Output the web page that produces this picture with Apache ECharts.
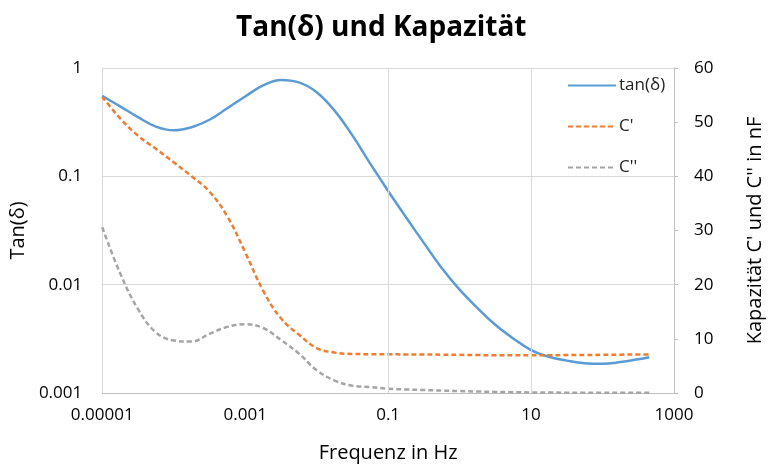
<!DOCTYPE html>
<html>
<head>
<meta charset="utf-8">
<script src="https://cdn.jsdelivr.net/npm/echarts@6/dist/echarts.min.js"></script>
<style>
html,body{margin:0;padding:0;background:#fff;}
#chart{width:773px;height:468px;}
</style>
</head>
<body>
<div id="chart"></div>
<script>
// Frequencies (Hz), quarter-decade steps
const freqHz = [1e-5, 1.78e-5, 3.16e-5, 5.62e-5, 1e-4, 1.78e-4, 3.16e-4, 5.62e-4, 1e-3, 1.78e-3, 3.16e-3, 5.62e-3,
  0.01, 0.0178, 0.0316, 0.0562, 0.1, 0.178, 0.316, 0.562, 1, 1.78, 3.16, 5.62, 10, 17.8, 31.6, 56.2, 100, 178, 316, 450];
const tanVals = [0.553, 0.442, 0.352, 0.288, 0.266, 0.284, 0.333, 0.425, 0.546, 0.690, 0.776, 0.736,
  0.598, 0.404, 0.239, 0.131, 0.0733, 0.0419, 0.0243, 0.01426, 0.0090, 0.00608, 0.00426, 0.00319,
  0.00249, 0.00216, 0.00199, 0.00188, 0.00186, 0.00193, 0.00205, 0.00214];
const c1Vals = [54.7, 50.7, 47.5, 45.1, 42.6, 40.0, 37.2, 32.6, 26.0, 18.9, 13.8, 10.8,
  8.3, 7.47, 7.2, 7.17, 7.15, 7.12, 7.1, 7.08, 7.05, 7.0, 6.98, 6.97,
  6.97, 6.98, 7.0, 7.02, 7.05, 7.08, 7.1, 7.12];
const c2Vals = [30.6, 22.1, 15.5, 11.2, 9.7, 9.5, 10.9, 12.2, 12.7, 12.0, 9.8, 7.3,
  4.2, 2.3, 1.35, 1.1, 0.8, 0.65, 0.55, 0.45, 0.35, 0.27, 0.2, 0.15,
  0.1, 0.08, 0.06, 0.05, 0.05, 0.04, 0.03, 0.03];

const xTickValues = [1e-5, 1e-3, 0.1, 10, 1000];
const xTickLabels = ['0.00001', '0.001', '0.1', '10', '1000'];
const yTickValues = [0.001, 0.01, 0.1, 1];
const yTickLabels = ['0.001', '0.01', '0.1', '1'];
const xGridValues = [1e-3, 0.1, 10];

const seriesNames = ['tan(\u03b4)', "C'", "C''"];
const colors = ['#5b9bd5', '#ed7d31', '#a5a5a5'];

function zip(xs, ys) { return xs.map((x, i) => [x, ys[i]]); }
function labelFor(values, labels) {
  const map = {};
  values.forEach((v, i) => { map[Math.round(Math.log10(v))] = labels[i]; });
  return v => { const k = Math.round(Math.log10(v)); return map[k] !== undefined ? map[k] : ''; };
}

const FONT = 'Open Sans';
const SMOOTH = 0.4;
const chart = echarts.init(document.getElementById('chart'));
chart.setOption({
  backgroundColor: '#fff',
  animation: false,
  textStyle: { fontFamily: FONT },
  title: {
    text: 'Tan(\u03b4) und Kapazit\u00e4t',
    left: 231, top: 9,
    textStyle: { fontFamily: FONT, fontSize: 28, fontWeight: 'bold', color: '#000' }
  },
  legend: {
    data: seriesNames,
    orient: 'vertical',
    left: 562, top: 72,
    itemWidth: 48, itemHeight: 14, itemGap: 24,
    itemStyle: { opacity: 0 },
    textStyle: { fontFamily: FONT, fontSize: 17, color: '#222', padding: [0, 0, 0, -2] }
  },
  grid: { left: 102, right: 91, top: 68, bottom: 73, containLabel: false },
  xAxis: {
    type: 'log', logBase: 10, min: 1e-5, max: 1000,
    name: 'Frequenz in Hz', nameLocation: 'middle', nameGap: 50,
    nameTextStyle: { fontFamily: FONT, fontSize: 20, color: '#000' },
    axisLine: { show: true, lineStyle: { color: '#bfbfbf', width: 1 } },
    axisTick: { show: false },
    splitLine: { show: false },
    axisLabel: { margin: 14, fontFamily: FONT, fontSize: 17, color: '#000', formatter: labelFor(xTickValues, xTickLabels) }
  },
  yAxis: [
    {
      type: 'log', logBase: 10, min: 0.001, max: 1, position: 'left',
      name: 'Tan(\u03b4)', nameLocation: 'middle', nameGap: 66, nameRotate: 90,
      nameTextStyle: { fontFamily: FONT, fontSize: 20, color: '#000' },
      axisLine: { show: true, lineStyle: { color: '#d9d9d9', width: 1 } },
      axisTick: { show: false },
      splitLine: { show: true, lineStyle: { color: '#d9d9d9', width: 1 } },
      axisLabel: { margin: 20, fontFamily: FONT, fontSize: 17, color: '#000', formatter: labelFor(yTickValues, yTickLabels) }
    },
    {
      type: 'value', min: 0, max: 60, interval: 10, position: 'right',
      name: "Kapazit\u00e4t C' und C'' in nF", nameLocation: 'middle', nameGap: 71, nameRotate: 90,
      nameTextStyle: { fontFamily: FONT, fontSize: 20, color: '#000' },
      axisLine: { show: true, lineStyle: { color: '#bfbfbf', width: 1 } },
      axisTick: { show: true, length: 4, lineStyle: { color: '#bfbfbf' } },
      splitLine: { show: false },
      axisLabel: { margin: 20, fontFamily: FONT, fontSize: 17, color: '#000' }
    }
  ],
  series: [
    {
      name: 'grid', type: 'line', yAxisIndex: 0, z: 1, silent: true,
      data: zip(freqHz, tanVals), showSymbol: false, symbol: 'none',
      lineStyle: { opacity: 0 },
      markLine: {
        silent: true, symbol: 'none', label: { show: false },
        lineStyle: { color: '#d9d9d9', type: 'solid', width: 1 },
        data: xGridValues.map(v => ({ xAxis: v }))
      }
    },
    {
      name: seriesNames[0], type: 'line', yAxisIndex: 0, z: 3,
      data: zip(freqHz, tanVals), showSymbol: false, symbol: 'none', smooth: SMOOTH,
      lineStyle: { color: colors[0], width: 2.5 }, itemStyle: { color: colors[0] }
    },
    {
      name: seriesNames[1], type: 'line', yAxisIndex: 1, z: 3,
      data: zip(freqHz, c1Vals), showSymbol: false, symbol: 'none', smooth: SMOOTH,
      lineStyle: { color: colors[1], width: 2.5, type: [5, 3] }, itemStyle: { color: colors[1] }
    },
    {
      name: seriesNames[2], type: 'line', yAxisIndex: 1, z: 3,
      data: zip(freqHz, c2Vals), showSymbol: false, symbol: 'none', smooth: SMOOTH,
      lineStyle: { color: colors[2], width: 2.5, type: [5, 3] }, itemStyle: { color: colors[2] }
    }
  ]
});
</script>
</body>
</html>
